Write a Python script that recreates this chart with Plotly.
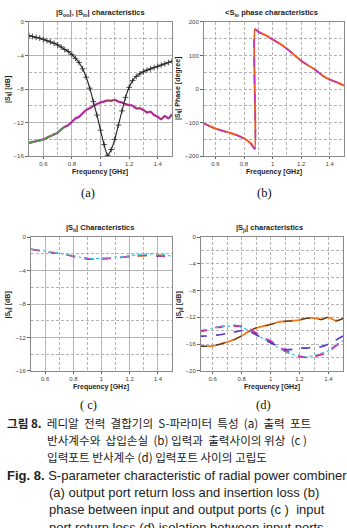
import plotly.graph_objects as go

W, H = 347, 528

# ---------------- data ----------------
freq_a = [0.5, 0.525, 0.55, 0.575, 0.6, 0.625, 0.65, 0.675, 0.7, 0.725, 0.75, 0.775, 0.8, 0.825,
          0.85, 0.875, 0.9, 0.925, 0.95, 0.975, 1.0, 1.025, 1.05, 1.075, 1.1, 1.125, 1.15, 1.175,
          1.2, 1.225, 1.25, 1.275, 1.3, 1.325, 1.35, 1.375, 1.4, 1.425, 1.45, 1.475, 1.5]
s_oo = [-1.65, -1.75, -1.85, -1.95, -2.1, -2.25, -2.4, -2.55, -2.75, -3.0, -3.3, -3.55, -3.9, -4.35,
        -4.85, -5.6, -6.6, -7.9, -9.5, -11.1, -12.9, -14.6, -15.9, -15.2, -14.0, -12.3, -10.6, -9.0,
        -7.8, -7.0, -6.5, -6.2, -5.95, -5.75, -5.6, -5.45, -5.3, -5.15, -5.0, -4.85, -4.7]
s_io_m = [-14.4, -14.3, -14.2, -14.1, -14.0, -13.8, -13.6, -13.4, -13.2, -12.8, -12.5, -12.3, -11.9, -11.5,
          -11.3, -10.9, -10.5, -10.3, -10.0, -9.8, -9.6, -9.5, -9.35, -9.4, -9.3, -9.5, -9.6, -9.8,
          -9.9, -10.0, -10.3, -10.3, -10.5, -10.8, -10.7, -11.1, -11.3, -11.6, -11.2, -11.5, -11.0]
s_io_r = [-14.5, -14.3, -14.25, -14.05, -14.0, -13.75, -13.65, -13.35, -13.25, -12.75, -12.55, -12.25, -11.95, -11.45,
          -11.35, -10.85, -10.55, -10.25, -10.05, -9.75, -9.65, -9.45, -9.4, -9.35, -9.35, -9.45, -9.65, -9.75,
          -9.95, -9.95, -10.35, -10.25, -10.55, -10.75, -10.75, -11.05, -11.35, -11.55, -11.25, -11.45, -11.05]
freq_a_g = [0.5, 0.525, 0.55, 0.575, 0.6, 0.625, 0.65, 0.675, 0.7, 0.725, 0.75]
s_io_g = [-14.45, -14.35, -14.2, -14.15, -14.0, -13.85, -13.6, -13.45, -13.2, -12.85, -12.5]

freq_b = [0.5, 0.55, 0.6, 0.65, 0.7, 0.75, 0.8, 0.85, 0.875, 0.8775, 0.9, 0.95, 1.0, 1.05, 1.1,
          1.15, 1.2, 1.25, 1.3, 1.35, 1.4, 1.45, 1.5]
phase_r = [-99, -108, -118, -124, -130, -137, -147, -163, -178, 178, 171, 160, 147, 135, 120,
           102, 84, 70, 57, 40, 28, 20, 10]
phase_m = [-100, -109, -117, -125, -131, -138, -148, -164, -179, 177, 170, 159, 148, 134, 119,
           103, 85, 69, 56, 41, 29, 19, 11]

freq_cd = [0.5, 0.55, 0.6, 0.65, 0.7, 0.75, 0.8, 0.85, 0.9, 0.95, 1.0, 1.05, 1.1, 1.15, 1.2,
           1.25, 1.3, 1.35, 1.4, 1.45, 1.5]
sii_o = [-1.4, -1.55, -1.7, -1.8, -1.9, -2.05, -2.25, -2.4, -2.55, -2.6, -2.6, -2.5, -2.45, -2.4, -2.3,
         -2.25, -2.2, -2.15, -2.1, -2.2, -2.35]
sii_m = [-1.45, -1.55, -1.7, -1.85, -1.95, -2.1, -2.25, -2.45, -2.55, -2.6, -2.55, -2.5, -2.4, -2.35, -2.3,
         -2.2, -2.15, -2.15, -2.2, -2.25, -2.4]
sii_c = [-1.4, -1.5, -1.65, -1.8, -1.9, -2.05, -2.2, -2.4, -2.5, -2.55, -2.5, -2.45, -2.35, -2.3, -2.2,
         -2.1, -2.05, -2.0, -2.0, -2.1, -2.3]
sii_n = [-1.45, -1.6, -1.7, -1.85, -1.95, -2.1, -2.3, -2.45, -2.6, -2.65, -2.6, -2.55, -2.45, -2.4, -2.3,
         -2.25, -2.2, -2.2, -2.25, -2.3, -2.45]

sji_o = [-16.3, -16.3, -16.3, -16.0, -15.7, -15.3, -14.8, -14.1, -13.6, -13.3, -13.1, -12.7, -12.6, -12.5, -12.4,
         -12.1, -12.1, -12.3, -12.0, -12.5, -12.2]
sji_k = [-16.25, -16.35, -16.2, -16.05, -15.65, -15.35, -14.75, -14.15, -13.55, -13.35, -13.05, -12.75, -12.55,
         -12.55, -12.35, -12.15, -12.05, -12.35, -11.95, -12.55, -12.15]
sji_m = [-14.2, -14.0, -13.6, -13.4, -13.3, -13.2, -13.3, -13.6, -14.3, -15.0, -15.5, -16.2, -16.9, -17.4, -17.8,
         -18.0, -17.8, -17.6, -17.2, -16.3, -15.6]
sji_r = [-14.0, -13.9, -13.5, -13.5, -13.2, -13.3, -13.4, -13.8, -14.5, -15.1, -15.7, -16.4, -17.1, -17.6, -17.9,
         -18.0, -17.9, -17.5, -17.0, -16.2, -15.5]
sji_b = [-14.8, -14.8, -14.7, -14.6, -14.4, -14.2, -14.0, -14.1, -14.6, -15.2, -15.8, -16.3, -16.8, -16.8, -16.6,
         -16.6, -16.4, -16.4, -16.0, -15.4, -14.8]
sji_c = [-14.1, -13.8, -13.7, -13.3, -13.4, -13.1, -13.5, -13.9, -14.6, -15.2, -15.8, -16.5, -17.1, -17.5, -17.7,
         -17.9, -17.7, -17.4, -17.0, -16.1, -15.5]

x_ticks = [0.6, 0.8, 1.0, 1.2, 1.4]
x_ticktext = ["0.6", "0.8", "1", "1.2", "1.4"]

# ---------------- figure ----------------
fig = go.Figure()


def add(x, y, ax, color, width=1.5, dash="solid"):
    fig.add_trace(go.Scatter(x=x, y=y, xaxis="x" + ax, yaxis="y" + ax, mode="lines",
                             line=dict(color=color, width=width, dash=dash, shape="spline", smoothing=0.6),
                             showlegend=False, hoverinfo="skip"))


# (a)
add(freq_a, s_io_m, "", "#c535c8", 2.3)
add(freq_a, s_io_r, "", "#8c3a3a", 1.0)
add(freq_a_g, s_io_g, "", "#4aa03a", 1.6)
fig.add_trace(go.Scatter(x=freq_a, y=s_oo, xaxis="x", yaxis="y", mode="lines+markers",
                         line=dict(color="#222222", width=1.1, shape="spline", smoothing=0.6),
                         marker=dict(symbol="cross-thin", size=4, line=dict(color="#222222", width=0.8)),
                         showlegend=False, hoverinfo="skip"))
# (b)
add(freq_b, phase_r, "2", "#3fc6e0", 1.5, "dash")
add(freq_b, phase_r, "2", "#ea5a20", 2.0)
add(freq_b, phase_m, "2", "#c533d0", 1.4, "dash")
# (c)
add(freq_cd, sii_n, "3", "#2a2a80", 1.4, "dash")
add(freq_cd, sii_o, "3", "#f08a30", 1.6, "dash")
add(freq_cd, sii_m, "3", "#d838c8", 1.4, "dash")
add(freq_cd, sii_c, "3", "#3fc6e0", 1.3, "dot")
# (d)
add(freq_cd, sji_o, "4", "#ee7a20", 1.8)
add(freq_cd, sji_k, "4", "#222222", 1.0, "dash")
add(freq_cd, sji_r, "4", "#e8303a", 1.6, "dash")
add(freq_cd, sji_m, "4", "#d030c0", 1.5, "dash")
add(freq_cd, sji_c, "4", "#40c0e0", 1.2, "dot")
add(freq_cd, sji_b, "4", "#5532d0", 1.6, "dash")

tickfont = dict(family="Liberation Sans", size=6, color="#444444")
GRID = "#b4b4b4"
DASH = "3px,2px"


def xax(dom, rng, anchor, dash_major):
    return dict(domain=dom, range=rng, anchor=anchor, tickvals=x_ticks, ticktext=x_ticktext,
                showgrid=True, gridcolor=GRID, gridwidth=0.8,
                griddash=DASH if dash_major else "solid",
                minor=dict(tickvals=[0.5, 0.7, 0.9, 1.1, 1.3], showgrid=True, gridcolor=GRID,
                           griddash=DASH, gridwidth=0.8),
                showline=True, linecolor="#8a8a8a", linewidth=1, mirror=True,
                ticks="outside", ticklen=2, tickcolor="#666", tickfont=tickfont, zeroline=False)


def yax(dom, rng, dt, anchor, dash_major):
    return dict(domain=dom, range=rng, anchor=anchor, dtick=dt, tick0=0,
                showgrid=True, gridcolor=GRID, gridwidth=0.8,
                griddash=DASH if dash_major else "solid",
                minor=dict(dtick=dt / 2, tick0=0, showgrid=True, gridcolor=GRID,
                           griddash=DASH, gridwidth=0.8),
                showline=True, linecolor="#8a8a8a", linewidth=1, mirror=True,
                ticks="outside", ticklen=3, tickcolor="#666", tickfont=tickfont, zeroline=False)


def px(x):
    return x / W


def py(y):
    return 1 - y / H


fig.update_layout(
    width=W, height=H, margin=dict(l=0, r=0, t=0, b=0),
    paper_bgcolor="white", plot_bgcolor="white",
    xaxis=xax([px(29), px(172)], [0.5, 1.5], "y", False),
    yaxis=yax([py(155), py(19)], [-16, 0], 4, "x", False),
    xaxis2=xax([px(204), px(344)], [0.52, 1.5], "y2", True),
    yaxis2=yax([py(155), py(19)], [-200, 200], 100, "x2", True),
    xaxis3=xax([px(31), px(172)], [0.5, 1.5], "y3", False),
    yaxis3=yax([py(372), py(237)], [-16, 0], 4, "x3", False),
    xaxis4=xax([px(201), px(343)], [0.52, 1.5], "y4", True),
    yaxis4=yax([py(372), py(237)], [-20, 0], 4, "x4", True),
)

ann = []
tfont = dict(family="Liberation Sans", size=7.5, color="#222")


def note(text, x, y, font, xanchor="center", angle=0):
    ann.append(dict(text=text, x=px(x), y=py(y), xref="paper", yref="paper", showarrow=False,
                    xanchor=xanchor, yanchor="middle", font=font, textangle=angle))


# subplot titles
note("<b>|S<sub>oo</sub>|, |S<sub>io</sub>| characteristics</b>", 100, 10, tfont)
note("<b>&lt;S<sub>io</sub> phase characteristics</b>", 271, 10, tfont)
note("<b>|S<sub>ii</sub>| Characteristics</b>", 100, 228, tfont)
note("<b>|S<sub>ji</sub>| characteristics</b>", 269, 228, tfont)
# axis titles
afont = dict(family="Liberation Sans", size=7, color="#222")
note("<b>Frequency [GHz]</b>", 100, 171, afont)
note("<b>Frequency [GHz]</b>", 274, 171, afont)
note("<b>Frequency [GHz]</b>", 101, 388, afont)
note("<b>Frequency [GHz]</b>", 272, 388, afont)
note("<b>|S<sub>ij</sub>| [dB]</b>", 8, 87, afont, angle=-90)
note("<b>|S<sub>ij</sub>| Phase [degree]</b>", 178, 87, afont, angle=-90)
note("<b>|S<sub>ii</sub>| [dB]</b>", 8, 305, afont, angle=-90)
note("<b>|S<sub>ji</sub>| [dB]</b>", 179, 305, afont, angle=-90)
# panel labels
sfont = dict(family="Liberation Serif", size=12.5, color="#111")
note("(a)", 88, 192, sfont)
note("(b)", 264, 192, sfont)
note("(\u00a0c)", 88, 407, sfont)
note("(d)", 263, 407, sfont)
# captions
kfont = dict(family="Noto Sans CJK KR", size=11.6, color="#222")
sp = "\u00a0\u00a0"
sp1 = "\u00a0 "
note("<b>그림 8.</b>" + sp + "레디알" + sp + "전력" + sp + "결합기의" + sp + "S-파라미터" + sp + "특성"
     + sp + "(a)" + sp + "출력" + sp + "포트", 5, 425, kfont, "left")
note("반사계수와" + sp1 + "삽입손실" + sp1 + "(b) 입력과" + sp1 + "출력사이의 위상" + sp1 + "(c )",
     45, 442, kfont, "left")
note("입력포트 반사계수 (d) 입력포트 사이의 고립도", 45, 459, kfont, "left")
efont = dict(family="Liberation Sans", size=13, color="#222")
note("<b>Fig. 8.</b> S-parameter characteristic of radial power combiner", 5, 478, efont, "left")
note("(a) output port return loss and insertion loss (b)", 47, 495, efont, "left")
note("phase between input and output ports (c )\u00a0 input", 47, 512, efont, "left")
note("port return loss (d) isolation between input ports", 47, 531, efont, "left")

fig.update_layout(annotations=ann)
fig.write_html("out.html")
